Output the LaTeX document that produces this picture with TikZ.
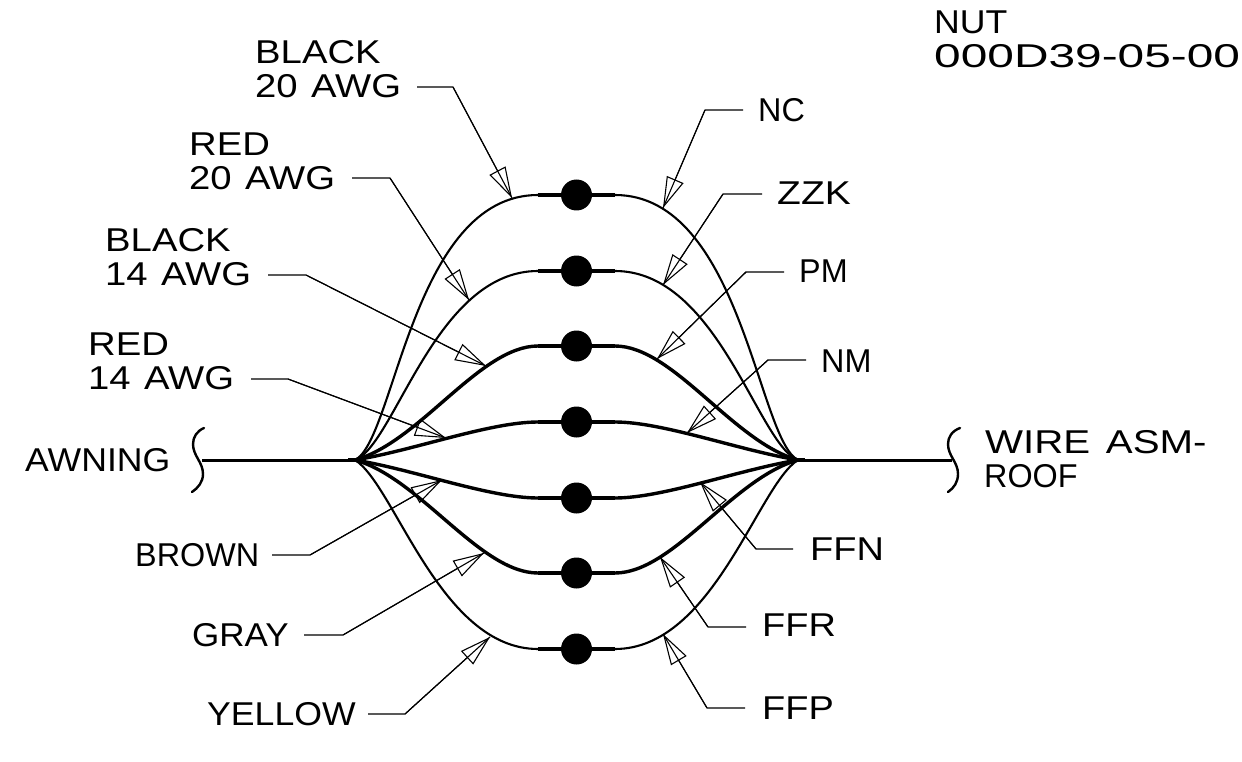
\documentclass[tikz,border=0pt]{standalone}
\usepackage{fontspec}
\usetikzlibrary{arrows.meta}
\setmainfont{Liberation Sans}
\newfontfamily\fA[FakeStretch=1.16,WordSpace=1.25]{Liberation Sans}
\newfontfamily\fB[FakeStretch=0.98]{Liberation Sans}
\newfontfamily\fC[FakeStretch=1.15]{Liberation Sans}
\newfontfamily\fD[FakeStretch=1.18]{Liberation Sans}
\newfontfamily\fE[FakeStretch=1.22,WordSpace=1.4]{Liberation Sans}
\newfontfamily\fF[FakeStretch=1.45]{Liberation Sans}
\newfontfamily\fG[FakeStretch=1.06]{Liberation Sans}
\newfontfamily\fH[FakeStretch=1.08]{Liberation Sans}
\tikzset{
  lbl/.style={anchor=south west,inner sep=0pt,align=left,text=black,font=\fA\fontsize{33}{34}\selectfont},
  lblB/.style={lbl,font=\fB\fontsize{33}{34}\selectfont},
  lblC/.style={lbl,font=\fC\fontsize{33}{34}\selectfont},
  lblD/.style={lbl,font=\fD\fontsize{33}{34}\selectfont},
  lblE/.style={lbl,font=\fE\fontsize{33}{34}\selectfont},
  lblF/.style={lbl,font=\fF\fontsize{33}{34}\selectfont},
  lblG/.style={lbl,font=\fG\fontsize{33}{34}\selectfont},
  lblH/.style={lbl,font=\fH\fontsize{33}{34}\selectfont},
  thinwire/.style={line width=2.1pt,black},
  thickwire/.style={line width=3.4pt,black},
  dot/.style={circle,fill=black,draw=none,minimum size=31pt,inner sep=0pt},
  leaderline/.style={line width=1.1pt,black,line join=round},
  tipped/.style={leaderline,-{Triangle[open,fill=none,length=31pt,width=18pt,line width=1.1pt]}},
  squiggle/.style={line width=2.4pt,black,line cap=round},
}
\newcommand{\leadto}[3]{\draw[leaderline] (#1) -- (#2) -- (#3); \draw[tipped] (#2) -- (#3);}
\begin{document}
\begin{tikzpicture}[x=1pt,y=-1pt]
\useasboundingbox (0,0) rectangle (1242,762);
\coordinate (fanL) at (355,460);
\coordinate (fanR) at (798,460);
\coordinate (brL) at (202,460);
\coordinate (brR) at (952,460);
% main harness
\draw[line width=3pt] (brL) -- (fanL);
\draw[line width=3pt] (fanR) -- (brR);
\draw[line width=4.2pt] (348,460) -- (fanL);
\draw[line width=4.2pt] (fanR) -- (805,460);
% wires
\foreach \n/\y/\ax/\ay/\bx/\st in {
  1/195/395/440/412/thinwire,
  2/271/395/445/435/thinwire,
  3/346/420/442/480/thickwire,
  4/422/415/450/490/thickwire,
  5/498/415/470/490/thickwire,
  6/573/420/478/480/thickwire,
  7/649/395/485/440/thinwire}{
  \pgfmathsetmacro{\rax}{1153-\ax}
  \pgfmathsetmacro{\rbx}{1153-\bx}
  \node[dot] (d\n) at (576.5,\y) {};
  \draw[\st] (fanL) .. controls (\ax,\ay) and (\bx,\y) .. (538,\y) -- (615,\y)
     .. controls (\rbx,\y) and (\rax,\ay) .. (fanR);
  \draw[line width=3.4pt] (538,\y) -- (d\n) -- (615,\y);
}
% break marks
\draw[squiggle] (204,428) .. controls (197,431) and (193,437) .. (193,444)
   .. controls (193,456) and (203,462) .. (203,474) .. controls (203,482) and (198,488) .. (192,492);
\draw[squiggle] (960,428) .. controls (952,431) and (948,437) .. (948,444)
   .. controls (948,456) and (958,462) .. (958,474) .. controls (958,482) and (954,488) .. (948,492);
% labels
\node[lbl] (black20) at (255,98) {BLACK\\20 AWG};
\node[lbl] (red20) at (189,190) {RED\\20 AWG};
\node[lbl] (black14) at (105,286) {BLACK\\14 AWG};
\node[lbl] (red14) at (88,390) {RED\\14 AWG};
\node[lblH] (awning) at (25,472) {AWNING};
\node[lblB] (brown) at (135,567) {BROWN};
\node[lblG] (gray) at (192,647) {GRAY};
\node[lblH] (yellow) at (207,726) {YELLOW};
\node[lblB] (nc) at (758,122) {NC};
\node[lblD] (zzk) at (777,205) {ZZK};
\node[lblB] (pm) at (799,283) {PM};
\node[lblB] (nm) at (821,373) {NM};
\node[lblC] (ffn) at (810,561) {FFN};
\node[lblC] (ffr) at (762,637) {FFR};
\node[lblC] (ffp) at (762,720) {FFP};
\node[lblE] (wire) at (985,454) {WIRE ASM-};
\node[lblB] (roof) at (984,488) {ROOF};
\node[lblH] (nut) at (934,34) {NUT};
\node[lblF] (partno) at (934,68) {000D39-05-00};
% leader coordinates
\foreach \nm/\sx/\sy/\bx/\by/\tx/\ty in {
  a/417/87/453/87/512/198,
  b/352/178/390/178/469/300,
  c/268/275/306/275/486/366,
  d/251/379/288/379/446/438,
  e/272/555/310/555/442/480,
  f/304/635/343/635/484/553,
  g/368/714/405/714/490/637,
  h/743/110/705/110/663/208,
  i/762/194/723/194/663/285,
  j/784/272/746/272/657/359,
  k/806/360/768/360/687/433,
  l/793/549/756/549/700/482,
  m/746/627/708/627/660/557,
  n/745/708/707/708/663/634}{
  \coordinate (s\nm) at (\sx,\sy);
  \coordinate (b\nm) at (\bx,\by);
  \coordinate (t\nm) at (\tx,\ty);
  \leadto{s\nm}{b\nm}{t\nm}
}
\end{tikzpicture}
\end{document}
